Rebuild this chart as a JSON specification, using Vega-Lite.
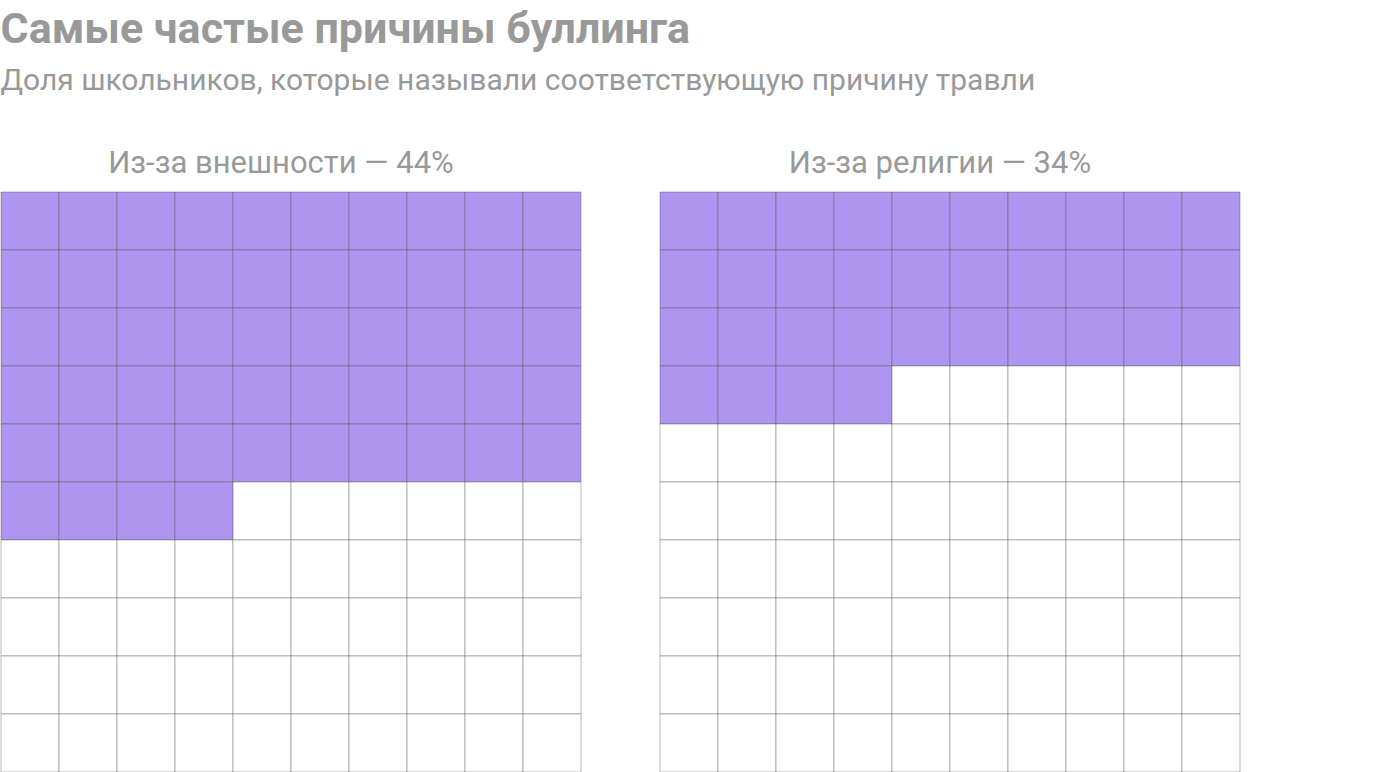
{
  "$schema": "https://vega.github.io/schema/vega-lite/v6.json",
  "padding": {"left": 0, "top": 8, "right": 0, "bottom": 0},
  "background": "white",
  "title": {
    "text": "Самые частые причины буллинга",
    "subtitle": "Доля школьников, которые называли соответствующую причину травли",
    "anchor": "start",
    "font": "Roboto",
    "fontSize": 43,
    "fontWeight": 700,
    "color": "#999999",
    "subtitleFont": "Roboto",
    "subtitleFontSize": 30,
    "subtitleColor": "#999999",
    "subtitlePadding": 14,
    "offset": 52
  },
  "datasets": {
    "looks": [
      {"c":0,"r":0,"f":1},{"c":1,"r":0,"f":1},{"c":2,"r":0,"f":1},{"c":3,"r":0,"f":1},{"c":4,"r":0,"f":1},{"c":5,"r":0,"f":1},{"c":6,"r":0,"f":1},{"c":7,"r":0,"f":1},{"c":8,"r":0,"f":1},{"c":9,"r":0,"f":1},
      {"c":0,"r":1,"f":1},{"c":1,"r":1,"f":1},{"c":2,"r":1,"f":1},{"c":3,"r":1,"f":1},{"c":4,"r":1,"f":1},{"c":5,"r":1,"f":1},{"c":6,"r":1,"f":1},{"c":7,"r":1,"f":1},{"c":8,"r":1,"f":1},{"c":9,"r":1,"f":1},
      {"c":0,"r":2,"f":1},{"c":1,"r":2,"f":1},{"c":2,"r":2,"f":1},{"c":3,"r":2,"f":1},{"c":4,"r":2,"f":1},{"c":5,"r":2,"f":1},{"c":6,"r":2,"f":1},{"c":7,"r":2,"f":1},{"c":8,"r":2,"f":1},{"c":9,"r":2,"f":1},
      {"c":0,"r":3,"f":1},{"c":1,"r":3,"f":1},{"c":2,"r":3,"f":1},{"c":3,"r":3,"f":1},{"c":4,"r":3,"f":1},{"c":5,"r":3,"f":1},{"c":6,"r":3,"f":1},{"c":7,"r":3,"f":1},{"c":8,"r":3,"f":1},{"c":9,"r":3,"f":1},
      {"c":0,"r":4,"f":1},{"c":1,"r":4,"f":1},{"c":2,"r":4,"f":1},{"c":3,"r":4,"f":1},{"c":4,"r":4,"f":1},{"c":5,"r":4,"f":1},{"c":6,"r":4,"f":1},{"c":7,"r":4,"f":1},{"c":8,"r":4,"f":1},{"c":9,"r":4,"f":1},
      {"c":0,"r":5,"f":1},{"c":1,"r":5,"f":1},{"c":2,"r":5,"f":1},{"c":3,"r":5,"f":1},{"c":4,"r":5,"f":0},{"c":5,"r":5,"f":0},{"c":6,"r":5,"f":0},{"c":7,"r":5,"f":0},{"c":8,"r":5,"f":0},{"c":9,"r":5,"f":0},
      {"c":0,"r":6,"f":0},{"c":1,"r":6,"f":0},{"c":2,"r":6,"f":0},{"c":3,"r":6,"f":0},{"c":4,"r":6,"f":0},{"c":5,"r":6,"f":0},{"c":6,"r":6,"f":0},{"c":7,"r":6,"f":0},{"c":8,"r":6,"f":0},{"c":9,"r":6,"f":0},
      {"c":0,"r":7,"f":0},{"c":1,"r":7,"f":0},{"c":2,"r":7,"f":0},{"c":3,"r":7,"f":0},{"c":4,"r":7,"f":0},{"c":5,"r":7,"f":0},{"c":6,"r":7,"f":0},{"c":7,"r":7,"f":0},{"c":8,"r":7,"f":0},{"c":9,"r":7,"f":0},
      {"c":0,"r":8,"f":0},{"c":1,"r":8,"f":0},{"c":2,"r":8,"f":0},{"c":3,"r":8,"f":0},{"c":4,"r":8,"f":0},{"c":5,"r":8,"f":0},{"c":6,"r":8,"f":0},{"c":7,"r":8,"f":0},{"c":8,"r":8,"f":0},{"c":9,"r":8,"f":0},
      {"c":0,"r":9,"f":0},{"c":1,"r":9,"f":0},{"c":2,"r":9,"f":0},{"c":3,"r":9,"f":0},{"c":4,"r":9,"f":0},{"c":5,"r":9,"f":0},{"c":6,"r":9,"f":0},{"c":7,"r":9,"f":0},{"c":8,"r":9,"f":0},{"c":9,"r":9,"f":0}
    ],
    "religion": [
      {"c":0,"r":0,"f":1},{"c":1,"r":0,"f":1},{"c":2,"r":0,"f":1},{"c":3,"r":0,"f":1},{"c":4,"r":0,"f":1},{"c":5,"r":0,"f":1},{"c":6,"r":0,"f":1},{"c":7,"r":0,"f":1},{"c":8,"r":0,"f":1},{"c":9,"r":0,"f":1},
      {"c":0,"r":1,"f":1},{"c":1,"r":1,"f":1},{"c":2,"r":1,"f":1},{"c":3,"r":1,"f":1},{"c":4,"r":1,"f":1},{"c":5,"r":1,"f":1},{"c":6,"r":1,"f":1},{"c":7,"r":1,"f":1},{"c":8,"r":1,"f":1},{"c":9,"r":1,"f":1},
      {"c":0,"r":2,"f":1},{"c":1,"r":2,"f":1},{"c":2,"r":2,"f":1},{"c":3,"r":2,"f":1},{"c":4,"r":2,"f":1},{"c":5,"r":2,"f":1},{"c":6,"r":2,"f":1},{"c":7,"r":2,"f":1},{"c":8,"r":2,"f":1},{"c":9,"r":2,"f":1},
      {"c":0,"r":3,"f":1},{"c":1,"r":3,"f":1},{"c":2,"r":3,"f":1},{"c":3,"r":3,"f":1},{"c":4,"r":3,"f":0},{"c":5,"r":3,"f":0},{"c":6,"r":3,"f":0},{"c":7,"r":3,"f":0},{"c":8,"r":3,"f":0},{"c":9,"r":3,"f":0},
      {"c":0,"r":4,"f":0},{"c":1,"r":4,"f":0},{"c":2,"r":4,"f":0},{"c":3,"r":4,"f":0},{"c":4,"r":4,"f":0},{"c":5,"r":4,"f":0},{"c":6,"r":4,"f":0},{"c":7,"r":4,"f":0},{"c":8,"r":4,"f":0},{"c":9,"r":4,"f":0},
      {"c":0,"r":5,"f":0},{"c":1,"r":5,"f":0},{"c":2,"r":5,"f":0},{"c":3,"r":5,"f":0},{"c":4,"r":5,"f":0},{"c":5,"r":5,"f":0},{"c":6,"r":5,"f":0},{"c":7,"r":5,"f":0},{"c":8,"r":5,"f":0},{"c":9,"r":5,"f":0},
      {"c":0,"r":6,"f":0},{"c":1,"r":6,"f":0},{"c":2,"r":6,"f":0},{"c":3,"r":6,"f":0},{"c":4,"r":6,"f":0},{"c":5,"r":6,"f":0},{"c":6,"r":6,"f":0},{"c":7,"r":6,"f":0},{"c":8,"r":6,"f":0},{"c":9,"r":6,"f":0},
      {"c":0,"r":7,"f":0},{"c":1,"r":7,"f":0},{"c":2,"r":7,"f":0},{"c":3,"r":7,"f":0},{"c":4,"r":7,"f":0},{"c":5,"r":7,"f":0},{"c":6,"r":7,"f":0},{"c":7,"r":7,"f":0},{"c":8,"r":7,"f":0},{"c":9,"r":7,"f":0},
      {"c":0,"r":8,"f":0},{"c":1,"r":8,"f":0},{"c":2,"r":8,"f":0},{"c":3,"r":8,"f":0},{"c":4,"r":8,"f":0},{"c":5,"r":8,"f":0},{"c":6,"r":8,"f":0},{"c":7,"r":8,"f":0},{"c":8,"r":8,"f":0},{"c":9,"r":8,"f":0},
      {"c":0,"r":9,"f":0},{"c":1,"r":9,"f":0},{"c":2,"r":9,"f":0},{"c":3,"r":9,"f":0},{"c":4,"r":9,"f":0},{"c":5,"r":9,"f":0},{"c":6,"r":9,"f":0},{"c":7,"r":9,"f":0},{"c":8,"r":9,"f":0},{"c":9,"r":9,"f":0}
    ]
  },
  "spacing": 77,
  "hconcat": [
    {
      "data": {"name": "looks"},
      "title": {"text": "Из-за внешности — 44%", "dx": -10},
      "width": 580,
      "height": 580,
      "mark": {"type": "rect", "stroke": "#555555", "strokeOpacity": 0.42, "strokeWidth": 1},
      "encoding": {
        "x": {"field": "c", "type": "ordinal", "axis": null, "scale": {"paddingInner": 0, "paddingOuter": 0}},
        "y": {"field": "r", "type": "ordinal", "axis": null, "scale": {"paddingInner": 0, "paddingOuter": 0}},
        "fill": {"field": "f", "type": "nominal", "legend": null, "scale": {"domain": [0, 1], "range": ["#ffffff", "#AE96F0"]}}
      }
    },
    {
      "data": {"name": "religion"},
      "title": {"text": "Из-за религии — 34%", "dx": -10},
      "width": 580,
      "height": 580,
      "mark": {"type": "rect", "stroke": "#555555", "strokeOpacity": 0.42, "strokeWidth": 1},
      "encoding": {
        "x": {"field": "c", "type": "ordinal", "axis": null, "scale": {"paddingInner": 0, "paddingOuter": 0}},
        "y": {"field": "r", "type": "ordinal", "axis": null, "scale": {"paddingInner": 0, "paddingOuter": 0}},
        "fill": {"field": "f", "type": "nominal", "legend": null, "scale": {"domain": [0, 1], "range": ["#ffffff", "#AE96F0"]}}
      }
    }
  ],
  "config": {
    "view": {"stroke": null},
    "concat": {"spacing": 77},
    "title": {
      "font": "Roboto",
      "fontSize": 31,
      "fontWeight": 400,
      "color": "#999999",
      "anchor": "middle",
      "offset": 12
    }
  }
}
